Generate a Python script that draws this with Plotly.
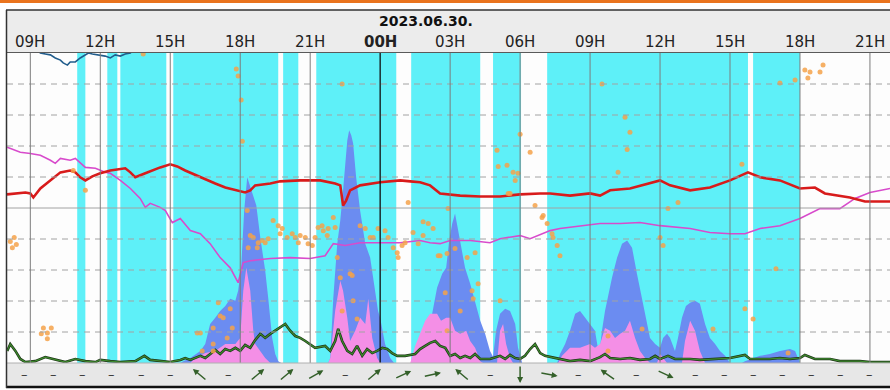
import plotly.graph_objects as go
import math

# ---------------- data (x = hours since 2023-06-29 00:00, y = chart units 0..100) ----------------
hour_ticks = [9, 12, 15, 18, 21, 24, 27, 30, 33, 36, 39, 42, 45]
hour_labels = ["09H", "12H", "15H", "18H", "21H", "00H", "03H", "06H", "09H", "12H", "15H", "18H", "21H"]
date_label = "2023.06.30."

rain_start = [11.01, 12.30, 12.86, 15.13, 19.84, 21.26, 25.33, 28.84, 31.16, 39.99]
rain_end   = [11.36, 12.73, 14.83, 19.63, 20.49, 24.69, 28.29, 30.04, 39.77, 42.00]

red_t = [8.0, 8.36, 8.79, 9.0, 9.13, 9.43, 9.86, 10.29, 10.71, 10.93, 11.14, 11.36, 11.66, 12.0, 12.43,
         13.07, 13.29, 13.5, 13.93, 14.57, 15.0, 15.3, 15.64, 16.29, 16.93, 17.36, 17.79, 18.21, 18.43,
         18.64, 19.29, 19.71, 20.57, 21.43, 22.07, 22.29, 22.41, 22.54, 22.71, 23.14, 24.0, 24.86, 25.29,
         25.71, 26.14, 26.57, 27.43, 28.29, 29.14, 30.0, 30.86, 31.29, 32.14, 33.0, 33.43, 33.86, 34.71,
         35.57, 36.0, 36.43, 37.29, 38.14, 39.0, 39.77, 40.29, 41.14, 42.0, 42.64, 43.07, 44.14, 44.79, 45.86]
red_v = [54.4, 54.7, 55.0, 54.7, 53.4, 56.3, 58.9, 61.5, 62.1, 61.5, 59.9, 58.9, 60.2, 61.2, 62.1,
         62.8, 61.5, 59.9, 61.2, 63.1, 64.1, 63.4, 62.1, 59.9, 57.9, 56.6, 55.7, 55.0, 55.7,
         57.3, 57.9, 58.6, 58.9, 58.9, 57.9, 57.3, 50.8, 52.4, 55.7, 57.3, 58.3, 58.9, 58.6,
         58.3, 57.3, 54.7, 54.0, 53.7, 53.7, 54.4, 54.7, 54.7, 54.0, 54.7, 54.0, 55.7, 56.3,
         57.9, 58.9, 57.3, 55.7, 56.6, 58.9, 61.5, 59.9, 58.9, 56.3, 56.6, 54.7, 53.4, 52.1, 52.1]

mag_t = [8.01, 8.57, 9.0, 9.43, 9.86, 10.07, 10.29, 10.71, 10.93, 11.36, 11.79, 12.21, 12.43, 12.86,
         13.29, 13.71, 13.93, 14.14, 14.57, 14.79, 15.09, 15.43, 15.86, 16.29, 16.71, 17.14, 17.57,
         17.91, 18.13, 18.43, 19.29, 20.14, 21.0, 21.64, 21.99, 22.5, 23.14, 24.0, 24.86, 25.71, 26.14,
         26.57, 27.0, 27.86, 28.71, 29.14, 30.0, 30.43, 31.29, 31.71, 32.57, 33.43, 34.29, 35.14, 36.0,
         37.29, 38.14, 39.0, 39.64, 40.29, 41.14, 42.0, 42.86, 43.71, 44.36, 45.0, 45.86]
mag_v = [69.6, 68.0, 67.6, 67.0, 65.4, 64.4, 66.0, 65.4, 66.0, 63.1, 62.8, 61.5, 61.2, 58.9,
         56.3, 53.1, 50.2, 51.5, 50.2, 49.2, 45.3, 46.6, 42.7, 41.7, 38.5, 34.0, 30.7,
         25.9, 32.4, 33.0, 33.7, 34.0, 33.7, 34.6, 38.5, 37.9, 38.8, 38.8, 38.8, 39.5, 38.8,
         38.5, 39.5, 39.5, 38.8, 40.1, 41.1, 40.1, 42.7, 43.4, 44.3, 45.0, 45.0, 45.3, 44.3,
         43.4, 42.1, 41.7, 41.7, 43.4, 44.3, 46.6, 49.8, 49.8, 53.1, 55.0, 56.3]

teal_t = [9.3, 9.43, 9.64, 9.86, 10.07, 10.29, 10.41, 10.59, 10.71, 10.93, 11.14, 11.36, 11.49, 11.66,
          12.0, 12.21, 12.43, 12.64, 12.86, 13.07, 13.29, 13.4]
teal_v = [101.0, 100.0, 99.7, 99.4, 98.4, 97.7, 96.8, 96.1, 97.1, 97.1, 98.4, 99.4, 100.0, 99.7,
          99.4, 99.0, 98.4, 99.4, 99.0, 99.7, 100.0, 101.0]

green_t = [8.01, 8.14, 8.36, 8.57, 8.79, 9.21, 9.64, 10.07, 10.5, 10.93, 11.36, 11.79, 12.0, 12.43,
           12.86, 13.5, 13.89, 14.14, 14.57, 15.0, 15.43, 15.64, 15.86, 16.07, 16.29, 16.5, 16.71,
           16.93, 17.14, 17.36, 17.57, 17.79, 18.0, 18.21, 18.43, 18.64, 18.86, 19.07, 19.29, 19.5,
           19.71, 19.93, 20.14, 20.36, 20.57, 20.79, 21.21, 21.64, 21.86, 22.07, 22.2, 22.37, 22.59,
           22.8, 23.01, 23.23, 23.44, 23.66, 23.87, 24.09, 24.3, 24.51, 24.73, 25.07, 25.5, 25.71,
           25.93, 26.14, 26.36, 26.57, 26.79, 27.0, 27.21, 27.43, 27.64, 27.86, 28.07, 28.29, 28.71,
           29.14, 29.36, 29.57, 29.79, 30.0, 30.21, 30.43, 30.64, 30.86, 31.07, 31.29, 31.71, 32.14,
           32.57, 33.0, 33.43, 33.64, 33.86, 34.29, 34.71, 35.14, 35.57, 35.79, 36.0, 36.34, 36.64,
           37.29, 37.71, 38.57, 39.0, 39.64, 39.86, 40.71, 41.14, 41.57, 42.0, 42.21, 42.64, 43.29,
           43.71, 44.57, 45.0, 45.86]
green_v = [3.9, 6.1, 3.9, 1.3, 0.3, 0.6, 1.9, 1.0, 0.3, 1.3, 0.6, 0.3, 1.0, 0.6,
           0.3, 0.6, 2.3, 1.0, 0.6, 0.3, 1.0, 1.6, 1.0, 1.6, 2.3, 1.6, 2.9,
           4.2, 2.9, 4.5, 3.9, 4.9, 3.9, 5.8, 4.9, 7.4, 9.4, 8.1, 9.4, 10.4,
           11.3, 12.6, 10.4, 8.7, 8.1, 7.1, 4.9, 5.5, 3.9, 7.1, 11.0, 7.1, 3.9,
           2.9, 5.5, 2.3, 4.5, 3.2, 3.9, 4.9, 4.5, 3.2, 2.3, 2.3, 2.9, 4.5,
           5.5, 6.5, 7.1, 5.5, 4.9, 2.3, 2.9, 1.6, 2.3, 1.6, 2.9, 1.3, 1.3,
           2.3, 1.3, 2.6, 1.6, 1.3, 2.3, 4.5, 6.1, 3.2, 2.3, 1.9, 1.3, 0.6,
           1.0, 0.6, 1.9, 2.9, 1.6, 1.3, 1.6, 1.0, 1.3, 2.3, 1.3, 2.3, 1.3,
           1.3, 1.0, 1.3, 1.6, 2.6, 1.3, 1.3, 1.6, 1.3, 1.6, 2.6, 1.3, 1.3,
           0.6, 0.6, 0.3, 0.3]

blue_t = [15.43, 15.56, 15.86, 16.29, 16.5, 16.71, 16.93, 17.14, 17.36, 17.57, 17.79, 17.91, 18.04,
          18.17, 18.3, 18.43, 18.56, 18.69, 18.86, 19.07, 19.2, 19.37, 19.5, 19.63, 19.76,
          21.77, 21.86, 21.99, 22.16, 22.29, 22.41, 22.5, 22.59, 22.67, 22.76, 22.84, 22.97, 23.14,
          23.36, 23.57, 23.79, 23.91, 24.0, 24.21, 24.43, 24.6,
          25.5, 25.63, 25.8, 25.93, 26.23, 26.44, 26.66, 26.83, 26.96, 27.09, 27.21, 27.34, 27.51,
          27.64, 27.86, 28.07, 28.29, 28.5, 28.71, 28.84, 28.97, 29.14, 29.36, 29.57, 29.79, 29.91, 30.09,
          31.59, 31.71, 31.93, 32.14, 32.36, 32.57, 32.79, 33.0, 33.21, 33.39, 33.51, 33.64, 33.77,
          33.94, 34.16, 34.37, 34.59, 34.8, 35.01, 35.23, 35.44, 35.57, 35.79, 36.0, 36.13, 36.3,
          36.43, 36.64, 36.77, 36.94, 37.11, 37.29, 37.5, 37.71, 37.93, 38.14, 38.36, 38.57, 38.79, 39.0,
          39.51, 39.64, 40.29, 40.71, 41.14, 41.57, 41.79, 42.0]
blue_v = [0, 0.6, 1.6, 3.9, 6.1, 12.6, 14.6, 16.8, 18.4, 20.7, 20.1, 23.3, 30.7,
          49.2, 59.9, 56.6, 54.0, 50.8, 40.5, 29.8, 21.0, 8.1, 2.9, 0.6, 0,
          0, 1.6, 21.0, 38.5, 46.0, 55.7, 63.1, 71.8, 75.1, 73.5, 70.9, 59.9, 49.2,
          38.5, 34.0, 23.3, 16.8, 14.6, 6.1, 1.6, 0,
          0, 3.9, 7.1, 9.4, 15.9, 24.3, 28.8, 30.7, 39.5, 45.0, 48.2, 42.7, 36.2,
          30.7, 25.6, 20.1, 13.6, 9.4, 3.9, 2.0, 10.4, 15.9, 17.5, 16.8, 12.6, 4.9, 0,
          0, 2.9, 6.1, 10.4, 15.9, 16.8, 14.6, 12.6, 10.4, 2.3, 10.4, 16.8, 21.7,
          27.5, 34.0, 38.5, 39.5, 37.2, 28.8, 21.0, 12.6, 8.1, 6.1, 4.9, 8.1, 9.4,
          8.1, 3.9, 8.1, 14.6, 18.4, 19.4, 20.1, 19.1, 12.6, 8.1, 6.1, 3.9, 2.3, 0,
          0, 0.6, 2.3, 2.9, 3.9, 4.5, 3.9, 0]

pink_t = [15.86, 16.07, 16.29, 16.5, 16.93, 17.36, 17.79, 18.0, 18.13, 18.26, 18.43, 18.56, 18.64,
          18.86, 19.07, 19.29,
          21.77, 21.86, 22.07, 22.29, 22.41, 22.59, 22.71, 22.93, 23.14, 23.36, 23.49, 23.66, 23.87, 24.0,
          25.29, 25.5, 25.71, 25.93, 26.14, 26.44, 26.61, 26.83, 27.0, 27.21, 27.43, 27.69, 27.86,
          28.07, 28.29, 28.41,
          29.01, 29.14, 29.27, 29.4, 29.57, 29.7,
          31.63, 31.8, 32.14, 32.57, 33.0, 33.21, 33.43, 33.64, 33.86, 34.07, 34.29, 34.5, 34.71,
          34.93, 35.14, 35.36, 35.57,
          35.87, 36.0, 36.17, 36.3,
          36.94, 37.07, 37.29, 37.5, 37.71, 37.93]
pink_v = [0, 1.6, 2.3, 3.2, 3.9, 6.1, 6.1, 8.1, 23.3, 30.7, 23.3, 10.4, 6.1,
          3.9, 1.6, 0,
          0, 1.6, 16.8, 26.5, 23.3, 14.6, 7.1, 10.4, 14.6, 12.6, 20.7, 8.1, 1.6, 0,
          0, 5.5, 9.4, 13.6, 15.9, 15.9, 13.6, 14.6, 14.6, 10.4, 9.4, 10.4, 7.1,
          4.9, 0.6, 0,
          0, 10.4, 12.6, 6.1, 1.6, 0,
          0, 2.3, 4.9, 4.9, 6.1, 4.9, 6.1, 11.3, 10.4, 8.1, 9.4, 10.4, 13.6,
          8.1, 3.9, 1.6, 0,
          0, 2.9, 1.3, 0,
          0, 7.1, 13.6, 10.4, 3.9, 0]

dot_t = [8.14, 8.31, 8.4, 8.23, 9.56, 9.9, 9.47, 9.73, 9.73, 10.84, 11.36, 13.84, 17.83, 17.91, 18.04,
         18.09, 18.3, 18.43, 18.56, 18.77, 18.94, 19.07, 19.2, 18.73, 18.34, 19.41, 19.63, 19.8, 19.71,
         20.01, 20.23, 20.36, 20.49, 20.57, 20.79, 20.91, 21.09, 21.21, 21.34, 21.51, 21.56, 21.77,
         21.99, 21.73, 22.07, 22.16, 22.8, 23.14, 23.36, 23.57, 23.7, 23.91, 24.21, 24.34, 24.56,
         24.73, 24.77, 24.94, 25.07, 25.2, 25.41, 25.63, 25.84, 26.06, 26.27, 17.06, 16.16, 16.84,
         16.84, 17.27, 17.66, 17.44, 17.57, 17.14, 16.29, 16.37, 16.84, 22.37, 22.71, 23.01, 22.84,
         22.29, 26.49, 26.87, 27.21, 27.73, 28.07, 26.79, 27.94, 27.99, 27.43, 29.14, 26.87, 31.41,
         31.59, 31.71, 25.84, 26.91, 26.57, 28.2, 29.57, 30.64, 30.94, 31.16, 31.37, 36.34, 36.77,
         36.0, 36.13, 40.97, 39.64, 39.99, 41.49, 33.77, 22.37, 29.01, 29.06, 29.44, 30.0, 30.43,
         29.7, 29.91, 29.79, 29.49, 30.99, 33.51, 34.5, 34.71, 34.59, 34.2, 39.51, 41.14, 41.79,
         42.34, 42.21, 42.43, 42.86, 42.99, 35.23, 33.77, 38.27]
dot_v = [39.2, 40.5, 38.2, 37.2, 11.3, 11.3, 9.4, 9.7, 7.8, 62.1, 55.7, 99.7, 94.8, 92.6, 84.8,
         71.5, 49.2, 41.1, 40.5, 38.8, 39.5, 38.8, 40.1, 37.2, 37.2, 46.0, 44.3, 43.4, 41.7,
         40.5, 41.7, 40.5, 38.8, 41.1, 40.5, 38.5, 37.9, 40.5, 43.7, 44.3, 42.7, 43.4,
         46.9, 41.1, 43.7, 34.0, 28.2, 44.3, 43.4, 40.5, 40.5, 43.4, 42.7, 40.5, 37.2,
         35.6, 34.0, 37.9, 38.8, 51.8, 42.1, 38.5, 41.1, 45.0, 43.4, 19.4, 9.7, 11.3,
         6.1, 14.6, 11.3, 8.1, 17.5, 15.2, 9.7, 3.9, 3.9, 16.8, 28.8, 14.2, 20.1,
         27.5, 34.6, 35.3, 36.9, 34.0, 35.6, 22.7, 23.3, 20.7, 16.8, 20.1, 10.4, 40.5,
         37.9, 34.6, 45.6, 49.8, 34.6, 25.6, 54.7, 50.8, 46.9, 45.0, 41.7, 49.8, 51.8,
         40.5, 37.9, 30.4, 17.5, 14.2, 3.2, 3.9, 90.0, 68.6, 63.4, 63.8, 73.8, 68.0,
         61.5, 61.2, 58.9, 54.7, 47.6, 90.0, 79.3, 74.4, 68.9, 61.5, 64.1, 90.3, 91.3,
         91.9, 94.5, 93.9, 93.9, 96.1, 11.0, 8.7, 11.0]

wind_t = [8.75, 10.0, 11.25, 12.5, 13.75, 15.0, 16.25, 17.5, 18.75, 20.0, 21.25, 22.5, 23.75, 25.0,
          26.25, 27.5, 28.75, 30.0, 31.25, 32.5, 33.75, 35.0, 36.25, 37.5, 38.75, 40.0, 41.25, 42.5,
          43.75, 45.0]
# arrow heading on screen (degrees, counter-clockwise from east); None = calm
wind_heading = [None, None, None, None, None, None, 140, None, 40, 40, 30, None, 40, 25,
                12, 140, None, 270, -10, None, 145, None, -25, None, None, None, None, None,
                None, None]

# ---------------- layout geometry ----------------
W, H = 890, 390
ML, MR, MT, MB = 7, 0, 53, 27
PW, PH = W - ML - MR, H - MT - MB
X_RANGE = [8.0, 45.86]


def py(pix):
    return 1 - (pix - MT) / PH


def px(pix):
    return (pix - ML) / PW


fig = go.Figure()

fig.add_trace(go.Scatter(x=blue_t, y=blue_v, mode="lines", fill="tozeroy",
                         line=dict(width=0, color="#6b8cf1"), fillcolor="#6b8cf1", hoverinfo="skip"))
fig.add_trace(go.Scatter(x=pink_t, y=pink_v, mode="lines", fill="tozeroy",
                         line=dict(width=0, color="#f48fe6"), fillcolor="#f48fe6", hoverinfo="skip"))
fig.add_trace(go.Scatter(x=teal_t, y=teal_v, mode="lines", line=dict(width=1.6, color="#215d8c")))
fig.add_trace(go.Scatter(x=mag_t, y=mag_v, mode="lines", line=dict(width=1.6, color="#d84bcc")))
fig.add_trace(go.Scatter(x=red_t, y=red_v, mode="lines", line=dict(width=2.6, color="#d81b1b")))
fig.add_trace(go.Scatter(x=green_t, y=green_v, mode="lines", line=dict(width=2.6, color="#1e3318")))
fig.add_trace(go.Scatter(x=green_t, y=green_v, mode="lines", line=dict(width=1.2, color="#3d8a2c")))
fig.add_trace(go.Scatter(x=dot_t, y=dot_v, mode="markers",
                         marker=dict(size=5, color="#f4a24a", opacity=0.85, line=dict(width=0))))

shapes = []
for s, e in zip(rain_start, rain_end):
    shapes.append(dict(type="rect", xref="x", yref="paper", x0=s, x1=e, y0=0, y1=1,
                       fillcolor="#5ef0f8", line=dict(width=0), layer="below"))
for v in range(10, 100, 10):
    shapes.append(dict(type="line", xref="paper", yref="y", x0=0, x1=1, y0=v, y1=v,
                       line=dict(color="#a2a2a2", width=1, dash="solid" if v == 50 else "6px,5px"),
                       layer="above"))
for t in hour_ticks:
    shapes.append(dict(type="line", xref="x", yref="paper", x0=t, x1=t, y0=0, y1=1,
                       line=dict(color="#111111" if t == 24 else "#7c7c7c", width=1.3 if t == 24 else 1),
                       layer="above"))
shapes += [
    dict(type="rect", xref="paper", yref="paper", x0=px(0), x1=1, y0=py(3), y1=py(0),
         fillcolor="#ea741e", line=dict(width=0)),
    dict(type="rect", xref="paper", yref="paper", x0=px(6), x1=1, y0=py(52), y1=py(10),
         fillcolor="#ececec", line=dict(width=0)),
    dict(type="rect", xref="paper", yref="paper", x0=px(6), x1=1, y0=py(386), y1=py(363),
         fillcolor="#e7e7e7", line=dict(width=0)),
    dict(type="line", xref="paper", yref="paper", x0=px(6), x1=1, y0=py(10), y1=py(10),
         line=dict(color="#333333", width=1.5)),
    dict(type="line", xref="paper", yref="paper", x0=px(6), x1=1, y0=py(52.5), y1=py(52.5),
         line=dict(color="#5a5a5a", width=1)),
    dict(type="line", xref="paper", yref="paper", x0=px(6), x1=1, y0=py(363), y1=py(363),
         line=dict(color="#b0b0b0", width=1)),
    dict(type="line", xref="paper", yref="paper", x0=px(6), x1=1, y0=py(387), y1=py(387),
         line=dict(color="#111111", width=2.5)),
    dict(type="line", xref="paper", yref="paper", x0=px(6.5), x1=px(6.5), y0=py(388), y1=py(10),
         line=dict(color="#333333", width=1.5)),
]

annotations = []
for t, lab in zip(hour_ticks, hour_labels):
    annotations.append(dict(xref="x", yref="paper", x=t, y=py(42), text=lab, showarrow=False,
                            xanchor="center", yanchor="middle",
                            font=dict(family="DejaVu Sans", size=15, color="#222222",
                                      weight="bold" if lab == "00H" else "normal")))
annotations.append(dict(xref="paper", yref="paper", x=px(426), y=py(21), text="<b>" + date_label + "</b>",
                        showarrow=False, xanchor="center", yanchor="middle",
                        font=dict(family="DejaVu Sans", size=14, color="#111111")))

strip_y = py(374.5)
for t, hd in zip(wind_t, wind_heading):
    if hd is None:
        annotations.append(dict(xref="x", yref="paper", x=t, y=strip_y, text="–", showarrow=False,
                                xanchor="center", yanchor="middle",
                                font=dict(family="DejaVu Sans", size=13, color="#333333")))
    else:
        c, s = math.cos(math.radians(hd)), math.sin(math.radians(hd))
        annotations.append(dict(xref="x", yref="paper", x=t, y=strip_y, text="", showarrow=True,
                                xshift=8.5 * c, yshift=8.5 * s, ax=-17 * c, ay=17 * s,
                                font=dict(size=1), borderpad=0, standoff=0, startstandoff=0,
                                arrowhead=2, arrowsize=0.8, arrowwidth=1.5, arrowcolor="#34602a"))

fig.update_layout(
    width=W, height=H, autosize=False,
    margin=dict(l=ML, r=MR, t=MT, b=MB, pad=0),
    paper_bgcolor="#ffffff", plot_bgcolor="#fdfdfd",
    showlegend=False,
    xaxis=dict(range=X_RANGE, showgrid=False, zeroline=False, showticklabels=False, ticks="",
               showline=False, fixedrange=True),
    yaxis=dict(range=[0, 100], showgrid=False, zeroline=False, showticklabels=False, ticks="",
               showline=False, fixedrange=True),
    shapes=shapes, annotations=annotations,
    font=dict(family="DejaVu Sans"),
)

fig.write_html("out.html", config={"displayModeBar": False},
               post_script="document.body.style.margin='0px';document.body.style.overflow='hidden';")
